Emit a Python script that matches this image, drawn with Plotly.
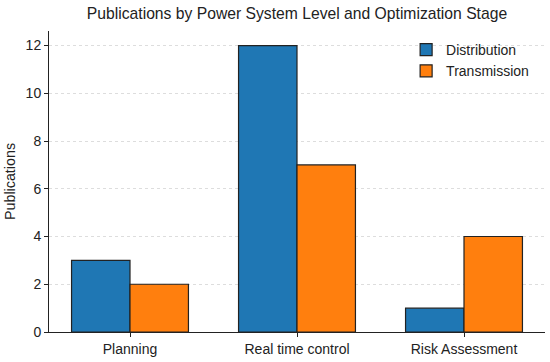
import plotly.graph_objects as go

categories = ["Planning", "Real time control", "Risk Assessment"]
distribution = [3, 12, 1]
transmission = [2, 7, 4]
y_ticks = [0, 2, 4, 6, 8, 10, 12]

fig = go.Figure()
fig.add_trace(go.Bar(x=categories, y=distribution, name="Distribution",
                     marker=dict(color="#1f77b4", line=dict(color="#222222", width=1.2))))
fig.add_trace(go.Bar(x=categories, y=transmission, name="Transmission",
                     marker=dict(color="#ff7f0e", line=dict(color="#222222", width=1.2))))

fig.update_layout(
    width=550, height=362,
    barmode="group", bargap=0.3, bargroupgap=0,
    plot_bgcolor="white", paper_bgcolor="white",
    font=dict(family="Liberation Sans, Arial, sans-serif", size=14, color="#222222"),
    margin=dict(l=49, r=5, t=31, b=28),
    title=dict(text="Publications by Power System Level and Optimization Stage",
               x=0.5, xref="paper", xanchor="center", y=0.964, yanchor="middle",
               font=dict(size=15.7, color="#222222")),
    legend=dict(x=0.72, y=0.99, xanchor="left", yanchor="top",
                bgcolor="rgba(255,255,255,0)", font=dict(size=14),
                itemwidth=30, tracegroupgap=4),
    showlegend=True,
)
fig.update_xaxes(range=[-0.485, 2.485], showline=True, linecolor="#222222", linewidth=1,
                 ticks="outside", ticklen=4, tickcolor="#222222", showgrid=False,
                 tickfont=dict(size=14))
fig.update_yaxes(range=[0, 12.61], tickvals=y_ticks, showline=True, linecolor="#222222",
                 linewidth=1, ticks="outside", ticklen=4, tickcolor="#222222",
                 showgrid=True, gridcolor="#dddddd", griddash="dot", gridwidth=0.8,
                 zeroline=False, tickfont=dict(size=14),
                 title=dict(text="Publications", font=dict(size=14.3), standoff=6))

fig.write_html("out.html", config={"displayModeBar": False},
               post_script="document.body.style.margin='0';")
